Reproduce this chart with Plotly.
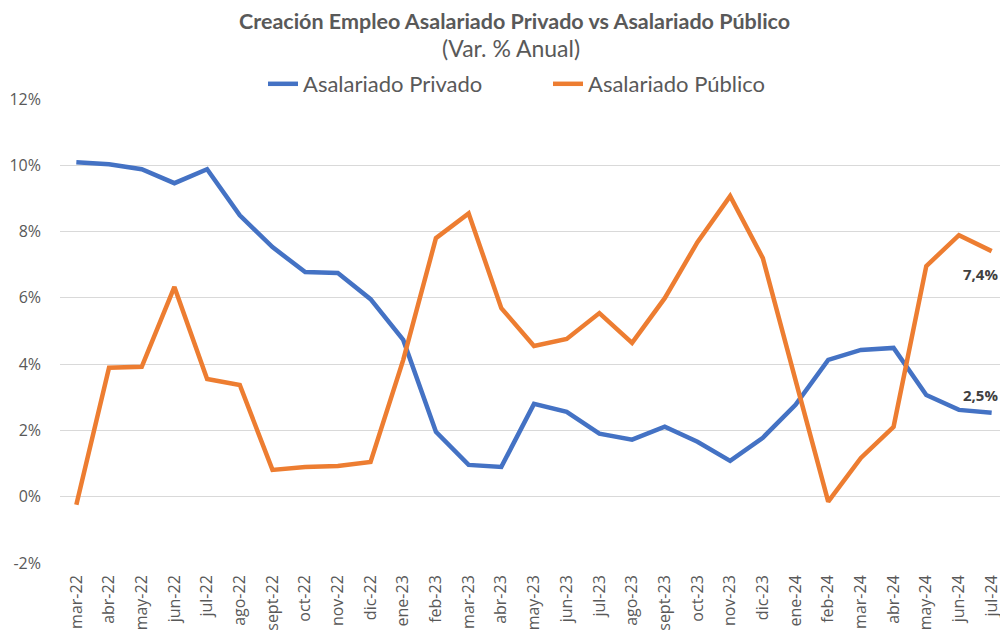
import plotly.graph_objects as go

months = ["mar-22","abr-22","may-22","jun-22","jul-22","ago-22","sept-22","oct-22","nov-22","dic-22",
          "ene-23","feb-23","mar-23","abr-23","may-23","jun-23","jul-23","ago-23","sept-23","oct-23",
          "nov-23","dic-23","ene-24","feb-24","mar-24","abr-24","may-24","jun-24","jul-24"]

privado = [10.09, 10.03, 9.88, 9.46, 9.88, 8.49, 7.53, 6.78, 6.75, 5.96,
           4.73, 1.96, 0.96, 0.90, 2.80, 2.56, 1.90, 1.72, 2.11, 1.66,
           1.08, 1.78, 2.77, 4.13, 4.43, 4.49, 3.07, 2.62, 2.53]

publico = [-0.24, 3.89, 3.92, 6.33, 3.55, 3.37, 0.81, 0.90, 0.93, 1.05,
           4.13, 7.80, 8.55, 5.69, 4.55, 4.76, 5.54, 4.64, 5.99, 7.68,
           9.07, 7.20, 3.52, -0.15, 1.17, 2.11, 6.96, 7.89, 7.41]

y_ticks = [-2, 0, 2, 4, 6, 8, 10, 12]
y_labels = ["-2%", "0%", "2%", "4%", "6%", "8%", "10%", "12%"]

BLUE = "#4472C4"
ORANGE = "#ED7D31"
GRAY = "#595959"

# page body has an 8px margin; figure sized to fit the 1008x630 window
OFF = 8
W, H = 1000, 622
L, R, T, B = 52, 0, 91, 67
PW, PH = W - L - R, H - T - B


def py(p):  # window pixel y -> paper y
    return (H - B - (p - OFF)) / PH


def px(p):  # window pixel x -> paper x
    return (p - OFF - L) / PW


fig = go.Figure()
fig.add_trace(go.Scatter(x=months, y=privado, mode="lines", name="Asalariado Privado",
                         line=dict(color=BLUE, width=4.5)))
fig.add_trace(go.Scatter(x=months, y=publico, mode="lines", name="Asalariado Público",
                         line=dict(color=ORANGE, width=4.5)))

fig.add_annotation(x=months[-1], y=publico[-1], text="<b>7,4%</b>", showarrow=False,
                   xanchor="right", yanchor="top", xshift=8, yshift=-11,
                   font=dict(family="Open Sans", size=15, color="#404040"))
fig.add_annotation(x=months[-1], y=privado[-1], text="<b>2,5%</b>", showarrow=False,
                   xanchor="right", yanchor="bottom", xshift=8, yshift=6,
                   font=dict(family="Open Sans", size=15, color="#404040"))

fig.add_annotation(xref="paper", yref="paper", x=px(514), y=py(21), yanchor="middle",
                   text="<b>Creación Empleo Asalariado Privado vs Asalariado Público</b>",
                   showarrow=False, font=dict(family="Lato", size=21.5, color=GRAY))
fig.add_annotation(xref="paper", yref="paper", x=px(511), y=py(48), yanchor="middle",
                   text="(Var. % Anual)",
                   showarrow=False, font=dict(family="Lato", size=23, color=GRAY))

fig.update_layout(
    width=W, height=H,
    paper_bgcolor="white", plot_bgcolor="white",
    margin=dict(l=L, r=R, t=T, b=B, autoexpand=False),
    legend=dict(orientation="h", x=px(548), xanchor="center", y=py(84), yanchor="middle",
                font=dict(family="Lato", size=22, color=GRAY),
                traceorder="normal", entrywidth=240, entrywidthmode="pixels"),
    showlegend=True,
    xaxis=dict(type="category", tickangle=-90, showgrid=False, showline=False,
               ticks="", tickfont=dict(family="Open Sans", size=16, color=GRAY),
               range=[-0.5, len(months) - 0.5], automargin=False, ticklabelstandoff=8),
    yaxis=dict(range=[-2, 12], tickvals=y_ticks, ticktext=y_labels, showgrid=True,
               gridcolor="#D9D9D9", gridwidth=1, zeroline=False, showline=False,
               tickfont=dict(family="Open Sans", size=16, color=GRAY), ticklabelstandoff=18,
               automargin=False),
)

fig.write_html("out.html")
